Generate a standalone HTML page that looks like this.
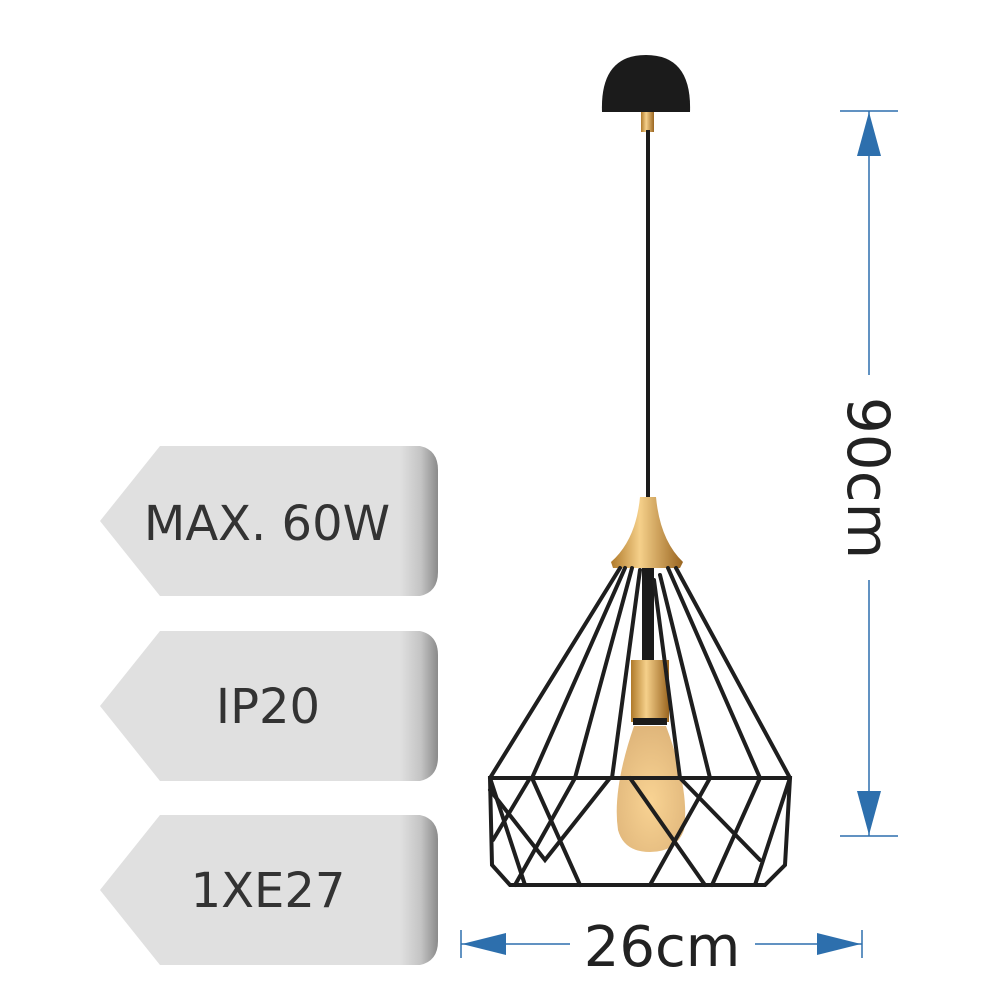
<!DOCTYPE html>
<html><head><style>
body{margin:0;background:#fff;width:1000px;height:1000px;overflow:hidden}
</style></head><body>
<svg width="1000" height="1000" viewBox="0 0 1000 1000" xmlns="http://www.w3.org/2000/svg">
<defs>
<linearGradient id="sh" x1="0" x2="1" y1="0" y2="0">
<stop offset="0" stop-color="#e0e0e0"/><stop offset="0.55" stop-color="#c4c4c4"/><stop offset="1" stop-color="#8a8a8a"/>
</linearGradient>
<linearGradient id="gold" x1="0" x2="1"><stop offset="0" stop-color="#b07a2a"/><stop offset="0.4" stop-color="#f5d08a"/><stop offset="1" stop-color="#9a6520"/></linearGradient>
<radialGradient id="bulb" cx="0.5" cy="0.6" r="0.6"><stop offset="0" stop-color="#f7c878"/><stop offset="1" stop-color="#d8a45a"/></radialGradient>
</defs>
<g font-family="'DejaVu Sans','Liberation Sans',sans-serif" fill="#333">
<g>
<path d="M160,446 H402 V596 H160 L100,521 Z" fill="#e0e0e0"/>
<path d="M400,446 H420 Q438,450 438,470 V572 Q438,592 420,596 H400 Z" fill="url(#sh)"/>
<text x="267" y="540" font-size="48" text-anchor="middle" fill="#333">MAX. 60W</text>
</g>
<g transform="translate(0,185)">
<path d="M160,446 H402 V596 H160 L100,521 Z" fill="#e0e0e0"/>
<path d="M400,446 H420 Q438,450 438,470 V572 Q438,592 420,596 H400 Z" fill="url(#sh)"/>
<text x="268" y="538" font-size="48" text-anchor="middle" fill="#333">IP20</text>
</g>
<g transform="translate(0,369)">
<path d="M160,446 H402 V596 H160 L100,521 Z" fill="#e0e0e0"/>
<path d="M400,446 H420 Q438,450 438,470 V572 Q438,592 420,596 H400 Z" fill="url(#sh)"/>
<text x="268" y="538" font-size="48" text-anchor="middle" fill="#333">1XE27</text>
</g>
</g>
<!-- lamp -->
<path d="M602,112 Q600,55 646,55 Q692,55 690,112 Z" fill="#1b1b1b"/>
<rect x="641" y="112" width="13" height="20" fill="url(#gold)"/>
<line x1="648" y1="130" x2="648" y2="500" stroke="#1b1b1b" stroke-width="4"/>
<path d="M640,497 H656 Q660,540 683,562 L680,568 H613 L611,562 Q636,540 640,497 Z" fill="url(#gold)"/>
<rect x="642" y="568" width="12" height="95" fill="#1b1b1b"/>
<rect x="631" y="660" width="38" height="62" fill="url(#gold)"/>
<rect x="633" y="718" width="34" height="7" fill="#1b1b1b"/>
<path d="M634,726 H666 Q690,790 684,830 Q676,852 650,852 Q624,852 618,830 Q612,790 634,726 Z" fill="url(#bulb)" opacity="0.8"/>
<g stroke="#1e1e1e" stroke-width="4" fill="none" stroke-linecap="round">
<line x1="620" y1="568" x2="490" y2="778"/>
<line x1="625" y1="568" x2="532" y2="778"/>
<line x1="632" y1="568" x2="575" y2="778"/>
<line x1="640" y1="570" x2="612" y2="778"/>
<line x1="676" y1="568" x2="790" y2="778"/>
<line x1="668" y1="568" x2="760" y2="778"/>
<line x1="660" y1="575" x2="710" y2="778"/>
<line x1="654" y1="580" x2="680" y2="778"/>
<path d="M490,778 H790 L785,865 L765,885 H510 L492,865 Z"/>
<path d="M490,778 L525,885"/>
<path d="M490,790 L545,860 L610,778"/>
<path d="M532,778 L580,885"/>
<path d="M575,778 L515,885"/>
<path d="M630,778 L705,885"/>
<path d="M710,778 L650,885"/>
<path d="M760,778 L712,885"/>
<path d="M790,778 L755,885"/>
<path d="M680,778 L760,860"/>
<path d="M493,840 L530,778"/>
</g>
<!-- dims -->
<g stroke="#2d6fad" stroke-width="1.5">
<line x1="840" y1="111" x2="898" y2="111"/>
<line x1="840" y1="836" x2="898" y2="836"/>
<line x1="869" y1="111" x2="869" y2="375"/>
<line x1="869" y1="580" x2="869" y2="836"/>
<line x1="461" y1="930" x2="461" y2="958"/>
<line x1="862" y1="930" x2="862" y2="958"/>
<line x1="461" y1="944" x2="570" y2="944"/>
<line x1="755" y1="944" x2="862" y2="944"/>
</g>
<g fill="#2d6fad">
<polygon points="869,112 857,156 881,156"/>
<polygon points="869,835 857,791 881,791"/>
<polygon points="462,944 506,933 506,955"/>
<polygon points="861,944 817,933 817,955"/>
</g>
<text x="662" y="966" font-family="'DejaVu Sans','Liberation Sans',sans-serif" font-size="56" text-anchor="middle" fill="#222">26cm</text>
<text transform="translate(848,478) rotate(90)" font-family="'DejaVu Sans','Liberation Sans',sans-serif" font-size="58" text-anchor="middle" fill="#222">90cm</text>
</svg>
</body></html>
